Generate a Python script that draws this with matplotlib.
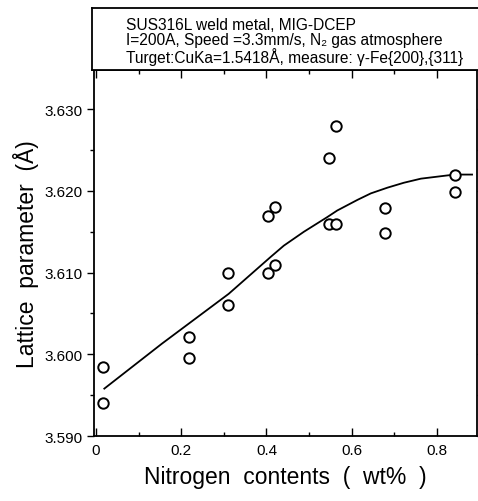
import matplotlib
matplotlib.use("Agg")
import matplotlib.pyplot as plt
from matplotlib.ticker import MultipleLocator

plt.rcParams["font.family"] = ["Liberation Sans", "DejaVu Sans"]

# measured points: nitrogen content (wt%) vs lattice parameter (A)
nitrogen = [0.017, 0.017, 0.219, 0.219, 0.309, 0.309, 0.403, 0.420, 0.404,
            0.420, 0.547, 0.562, 0.547, 0.562, 0.678, 0.678, 0.843, 0.843]
lattice = [3.5984, 3.5941, 3.6021, 3.5996, 3.6100, 3.6060, 3.6169, 3.6180,
           3.6099, 3.6109, 3.6240, 3.6279, 3.6160, 3.6160, 3.6179, 3.6148,
           3.6219, 3.6199]

# trend curve
curve_x = [0.0195, 0.1546, 0.3113, 0.4094, 0.4407, 0.4878, 0.5428, 0.5660,
           0.6134, 0.6450, 0.6840, 0.7224, 0.7624, 0.8252, 0.8430, 0.8824]
curve_y = [3.5958, 3.6013, 3.6074, 3.6119, 3.6133, 3.6150, 3.6168, 3.6176,
           3.6189, 3.6197, 3.6204, 3.6210, 3.6215, 3.6219, 3.6220, 3.6220]

x_ticks = [0, 0.2, 0.4, 0.6, 0.8]
x_tick_labels = ["0", "0.2", "0.4", "0.6", "0.8"]
y_ticks = [3.590, 3.600, 3.610, 3.620, 3.630]
y_tick_labels = ["3.590", "3.600", "3.610", "3.620", "3.630"]

header_lines = [
    "SUS316L weld metal, MIG-DCEP",
    "I=200A, Speed =3.3mm/s, N₂ gas atmosphere",
    "Turget:CuKa=1.5418Å, measure: γ-Fe{200},{311}",
]

W, H = 478, 502
fig = plt.figure(figsize=(W / 100, H / 100), dpi=100)

left, right, top, bottom = 94, 477, 71, 437
ax = fig.add_axes([left / W, 1 - bottom / H, (right - left) / W, (bottom - top) / H])

ax.plot(curve_x, curve_y, color="black", lw=1.3, zorder=2)
ax.plot(nitrogen, lattice, "o", ms=7.5, mfc="white", mec="black", mew=1.4,
        linestyle="none", zorder=3)

ax.set_xlim(-0.0047, 0.894)
ax.set_ylim(3.590, 3.6348)
ax.set_xticks(x_ticks)
ax.set_xticklabels(x_tick_labels)
ax.set_yticks(y_ticks)
ax.set_yticklabels(y_tick_labels)
ax.xaxis.set_minor_locator(MultipleLocator(0.1))
ax.yaxis.set_minor_locator(MultipleLocator(0.005))

ax.tick_params(axis="x", which="both", direction="in", top=True, labelsize=11, pad=5)
ax.tick_params(axis="x", which="major", length=6, width=1)
ax.tick_params(axis="x", which="minor", length=3, width=1)
ax.tick_params(axis="y", which="major", direction="out", length=5, width=1, labelsize=11)
ax.tick_params(axis="y", which="minor", direction="out", length=3, width=1)
ax.tick_params(axis="y", which="both", right=True)

for s in ax.spines.values():
    s.set_linewidth(1.3)

ax.set_xlabel("Nitrogen  contents  (  wt%  )", fontsize=16.5, labelpad=6)
ax.set_ylabel("Lattice  parameter  (Å)", fontsize=16.5, labelpad=4)

# header box above the axes
box_top = 9
hb = fig.add_axes([92 / W, 1 - top / H, (W - 92) / W + 0.02, (top - box_top) / H])
hb.set_xticks([])
hb.set_yticks([])
hb.spines["right"].set_visible(False)
for s in hb.spines.values():
    s.set_linewidth(1.3)
for i, line in enumerate(header_lines):
    hb.text((125 - 92) / (W - 92), 1 - (16 + 16 * i) / (top - box_top), line,
            transform=hb.transAxes, fontsize=11.2, va="center", ha="left")

fig.savefig("out.png", dpi=100)
